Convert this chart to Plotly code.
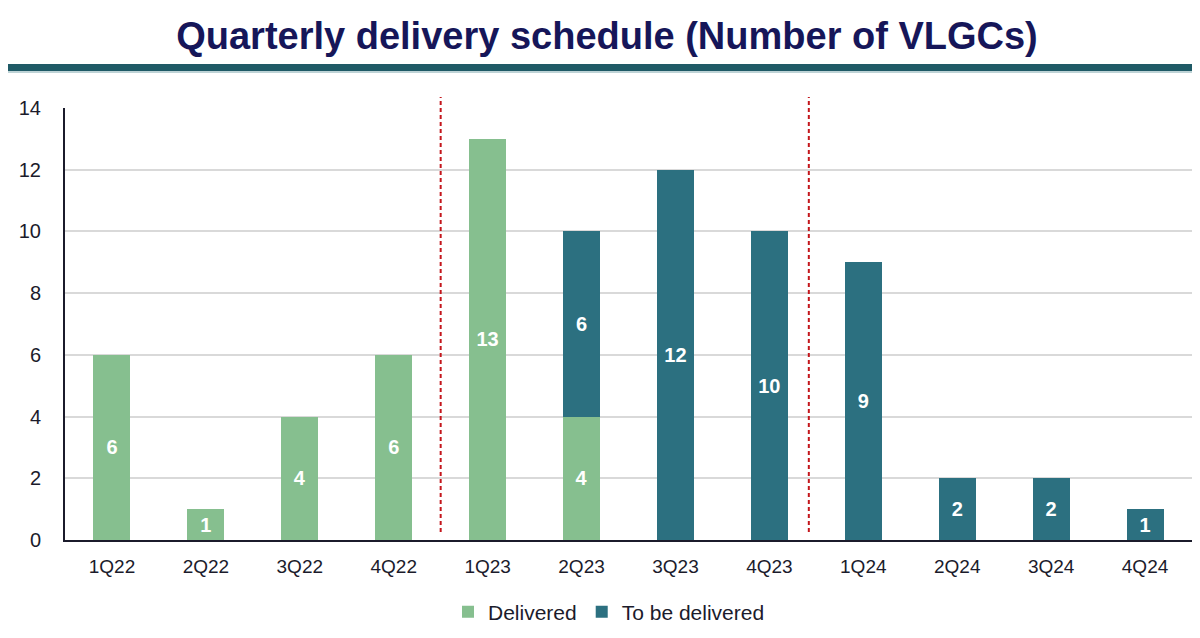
import plotly.graph_objects as go

quarters = ["1Q22", "2Q22", "3Q22", "4Q22", "1Q23", "2Q23",
            "3Q23", "4Q23", "1Q24", "2Q24", "3Q24", "4Q24"]
delivered = [6, 1, 4, 6, 13, 4, 0, 0, 0, 0, 0, 0]
to_be_delivered = [0, 0, 0, 0, 0, 6, 12, 10, 9, 2, 2, 1]
y_ticks = [0, 2, 4, 6, 8, 10, 12, 14]
dividers = [3.5, 7.42]

# the page body adds an 8px margin, so the figure is drawn 8px in from the window
OFF = 8
W, H = 1200 - OFF, 638 - OFF
ML, MR, MT, MB = 65 - OFF, 8, 108 - OFF, 98
pw, ph = W - ML - MR, H - MT - MB


def px_x(p):
    # window pixel -> paper x
    return (p - OFF - ML) / pw


def px_y(p):
    # window pixel -> paper y
    return (H - MB - (p - OFF)) / ph


GREEN = "#86bf8f"
TEAL = "#2c7080"
TXT = "#1b1b2b"
FONT = "Liberation Sans, Arial, sans-serif"

fig = go.Figure()
fig.add_trace(go.Bar(
    x=quarters, y=delivered, name="Delivered",
    marker=dict(color=GREEN, line=dict(width=0)),
    text=[str(v) if v else "" for v in delivered],
    textposition="inside", insidetextanchor="middle",
    textfont=dict(color="white", size=20, family=FONT, weight="bold"),
))
fig.add_trace(go.Bar(
    x=quarters, y=to_be_delivered, name="To be delivered",
    marker=dict(color=TEAL, line=dict(width=0)),
    text=[str(v) if v else "" for v in to_be_delivered],
    textposition="inside", insidetextanchor="middle",
    textfont=dict(color="white", size=20, family=FONT, weight="bold"),
))

shapes = []
for d in dividers:
    shapes.append(dict(type="line", xref="x", yref="paper",
                       x0=d, x1=d, y0=px_y(532), y1=px_y(97),
                       line=dict(color="#c4161c", width=2, dash="4px,3px")))
# header band under the title
shapes.append(dict(type="rect", xref="paper", yref="paper",
                   x0=px_x(0), x1=px_x(1200), y0=px_y(71), y1=px_y(64),
                   fillcolor="#1f5a66", line=dict(width=0), layer="above"))
shapes.append(dict(type="line", xref="paper", yref="paper",
                   x0=px_x(0), x1=px_x(1200), y0=px_y(72), y1=px_y(72),
                   line=dict(color="#a9c4c9", width=1.5)))

fig.update_layout(
    width=W, height=H,
    barmode="stack", bargap=0.606,
    paper_bgcolor="white", plot_bgcolor="white",
    margin=dict(l=ML, r=MR, t=MT, b=MB, autoexpand=False),
    font=dict(family=FONT, color=TXT, size=19),
    title=dict(text="<b>Quarterly delivery schedule (Number of VLGCs)</b>",
               x=px_x(607), xref="paper", xanchor="center",
               y=1 - (36 - OFF) / H, yanchor="middle",
               font=dict(size=38, color="#161659", family=FONT)),
    xaxis=dict(showline=True, linecolor=TXT, linewidth=2,
               ticks="", ticklabelstandoff=8,
               tickfont=dict(size=19, color=TXT), showgrid=False),
    yaxis=dict(range=[0, 14], tickvals=y_ticks, showline=True,
               linecolor=TXT, linewidth=2, ticks="",
               ticklabelstandoff=18,
               gridcolor="#d9d9d9", gridwidth=1.5, zeroline=False,
               tickfont=dict(size=20, color=TXT)),
    legend=dict(orientation="h", x=px_x(609), xanchor="center", y=px_y(612),
                yanchor="middle", font=dict(size=21, color=TXT),
                traceorder="normal", itemwidth=30),
    shapes=shapes,
    showlegend=True,
)
fig.write_html("out.html")
